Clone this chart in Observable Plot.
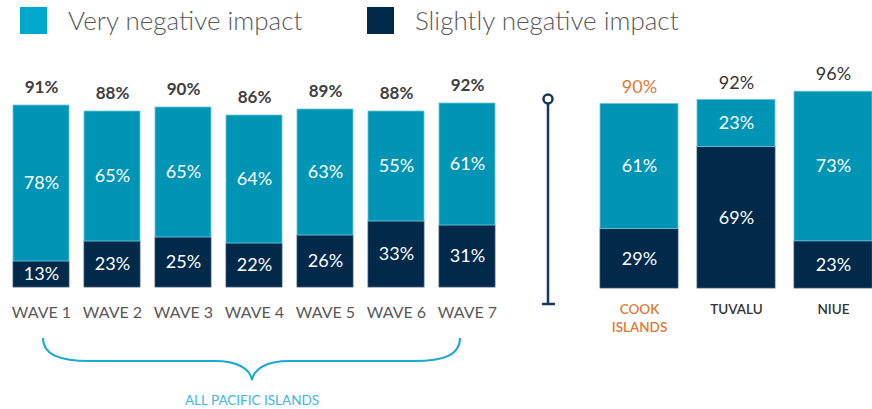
<!DOCTYPE html>
<html>
<head>
<meta charset="utf-8">
<script src="https://cdn.jsdelivr.net/npm/d3@7"></script>
<script src="https://cdn.jsdelivr.net/npm/@observablehq/plot@0.6"></script>
<style>
  html, body { margin: 0; padding: 0; background: #fff; }
  #root { position: relative; width: 872px; height: 409px; overflow: hidden; font-family: Lato, "Open Sans", sans-serif; }
  .abs { position: absolute; top: 0; }
  .leg { position: absolute; top: 0; height: 40px; display: flex; align-items: center; font-size: 26px; font-weight: 300; color: #595959; }
  .sw { width: 27px; height: 27px; margin-right: 21px; }
</style>
</head>
<body>
<div id="root">
  <div class="leg" style="left:20px"><div class="sw" style="background:#00A8CE"></div>Very negative impact</div>
  <div class="leg" style="left:367px"><div class="sw" style="background:#00294A"></div>Slightly negative impact</div>
</div>
<script>
// ---- data ----
const waves = ["WAVE 1", "WAVE 2", "WAVE 3", "WAVE 4", "WAVE 5", "WAVE 6", "WAVE 7"];
const waveVery = [78, 65, 65, 64, 63, 55, 61];
const waveSlight = [13, 23, 25, 22, 26, 33, 31];
const waveTotal = [91, 88, 90, 86, 89, 88, 92];

const countries = ["COOK ISLANDS", "TUVALU", "NIUE"];
const countryLabels = ["COOK\nISLANDS", "TUVALU", "NIUE"];
const countryVery = [61, 23, 73];
const countrySlight = [29, 69, 23];
const countryTotal = [90, 92, 96];

const groupLabel = "ALL PACIFIC ISLANDS";

const LIGHT = "#0095B4", DARK = "#00294A";
const root = document.getElementById("root");

function stackRows(cats, very, slight) {
  const rows = [];
  cats.forEach((c, i) => {
    rows.push({cat: c, type: "Slightly", y1: 0, y2: slight[i], v: slight[i]});
    rows.push({cat: c, type: "Very", y1: slight[i], y2: slight[i] + very[i], v: very[i]});
  });
  return rows;
}

// ---- left chart (waves) ----
const leftRows = stackRows(waves, waveVery, waveSlight);
const leftTotals = waves.map((w, i) => ({cat: w, t: waveTotal[i]}));
const left = Plot.plot({
  width: 510, height: 409,
  marginLeft: 10, marginRight: 11, marginTop: 87, marginBottom: 122,
  x: {domain: waves, paddingInner: 0.208, paddingOuter: 0, axis: null},
  y: {domain: [0, 100], axis: null},
  style: {fontFamily: "Lato, 'Open Sans', sans-serif", overflow: "visible"},
  marks: [
    Plot.rectY(leftRows, {x: "cat", y1: "y1", y2: "y2", fill: d => d.type === "Very" ? LIGHT : DARK, stroke: d => d.type === "Very" ? "#6cc6da" : "#3b566e", strokeWidth: 0.8}),
    Plot.text(leftRows, {x: "cat", y: d => (d.y1 + d.y2) / 2, text: d => d.v + "%", fill: "white", fontSize: 18}),
    Plot.text(leftTotals, {x: "cat", y: "t", dy: -18, text: d => d.t + "%", fill: "#404040", fontSize: 17, fontWeight: "bold"}),
    Plot.text(waves, {x: d => d, y: 0, dy: 25, text: d => d, fill: "#595959", fontSize: 16})
  ]
});
left.classList.add("abs");
left.style.left = "0px";
root.appendChild(left);

// brace + group label
const ls = d3.select(left);
ls.append("path")
  .attr("d", "M43,338 C43,355 60,361 90,361 L215,361 C236,361 250,368 252,380 C254,368 268,361 289,361 L414,361 C444,361 460,355 460,338")
  .attr("fill", "none").attr("stroke", "#1AA9D2").attr("stroke-width", 2);
ls.append("text").attr("x", 252).attr("y", 400).attr("dy", "0.35em").attr("text-anchor", "middle")
  .attr("fill", "#3CB9DC").attr("font-size", 13.5).text(groupLabel);

// ---- right chart (countries) ----
const rightRows = stackRows(countries, countryVery, countrySlight);
const rightInfo = countries.map((c, i) => ({cat: c, t: countryTotal[i], label: countryLabels[i], col: i === 0 ? "#DD7A34" : "#333333"}));
const right = Plot.plot({
  width: 352, height: 409,
  marginLeft: 80, marginRight: 0, marginTop: 83, marginBottom: 121,
  x: {domain: countries, paddingInner: 0.196, paddingOuter: 0, axis: null},
  y: {domain: [0, 100], axis: null},
  style: {fontFamily: "Lato, 'Open Sans', sans-serif", overflow: "visible"},
  marks: [
    Plot.rectY(rightRows, {x: "cat", y1: "y1", y2: "y2", fill: d => d.type === "Very" ? LIGHT : DARK, stroke: d => d.type === "Very" ? "#6cc6da" : "#3b566e", strokeWidth: 0.8}),
    Plot.text(rightRows, {x: "cat", y: d => (d.y1 + d.y2) / 2, text: d => d.v + "%", fill: "white", fontSize: 18}),
    Plot.text(rightInfo, {x: "cat", y: "t", dy: -17, text: d => d.t + "%", fill: d => d.col, fontSize: 18}),
    Plot.text(rightInfo, {x: "cat", y: 0, dy: 13, lineAnchor: "top", lineHeight: 1.3, text: "label", fill: d => d.col, fontSize: 13.5, fontWeight: 600})
  ]
});
right.classList.add("abs");
right.style.left = "520px";
root.appendChild(right);

// separator
const rs = d3.select(right);
rs.append("line").attr("x1", 28).attr("x2", 28).attr("y1", 104).attr("y2", 304).attr("stroke", "#17375A").attr("stroke-width", 2.5);
rs.append("line").attr("x1", 22).attr("x2", 35).attr("y1", 304).attr("y2", 304).attr("stroke", "#17375A").attr("stroke-width", 2.5);
rs.append("circle").attr("cx", 28).attr("cy", 99).attr("r", 4.5).attr("fill", "white").attr("stroke", "#17375A").attr("stroke-width", 2.5);
</script>
</body>
</html>
